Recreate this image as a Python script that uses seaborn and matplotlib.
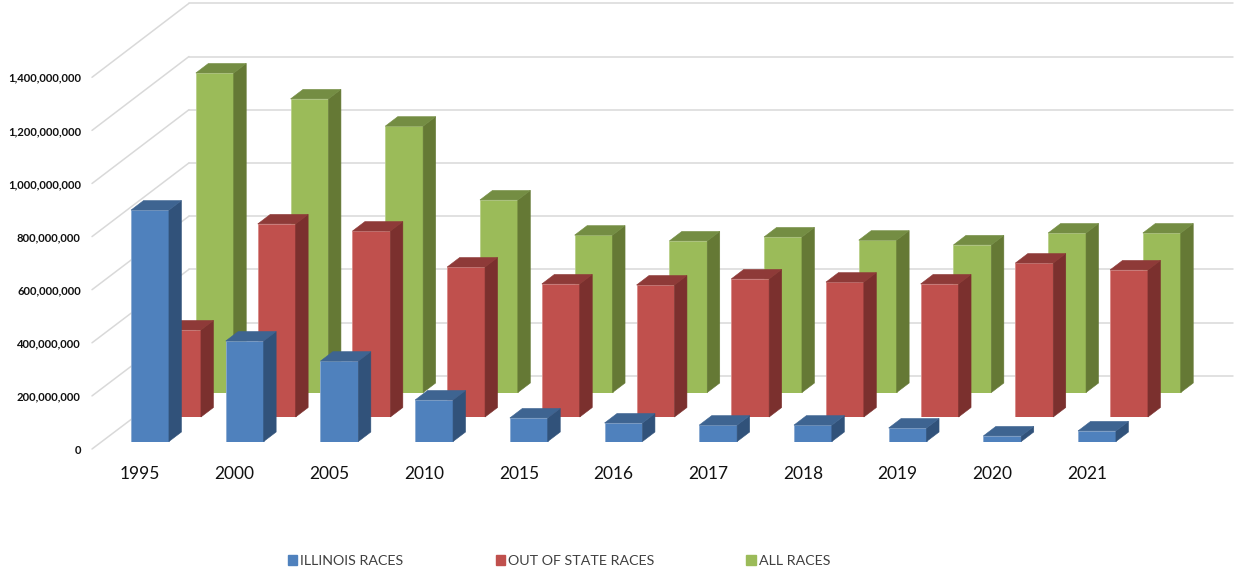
import matplotlib
matplotlib.use('Agg')
import matplotlib.pyplot as plt
from matplotlib.patches import Patch, Polygon
from matplotlib.lines import Line2D
from matplotlib.transforms import IdentityTransform
import seaborn as sns

years = ['1995', '2000', '2005', '2010', '2015', '2016', '2017', '2018', '2019', '2020', '2021']
illinois = [875e6, 380e6, 304e6, 157e6, 89e6, 70e6, 62e6, 62e6, 51e6, 21e6, 40e6]
out_of_state = [329e6, 730e6, 703e6, 567e6, 503e6, 499e6, 522e6, 510e6, 503e6, 582e6, 556e6]
all_races = [1208e6, 1110e6, 1007e6, 728e6, 595e6, 573e6, 588e6, 576e6, 558e6, 603e6, 603e6]
ticks = [0, 200000000, 400000000, 600000000, 800000000, 1000000000, 1200000000, 1400000000]

W, H = 1238, 574
SLOT = 94.7
PX_HEIGHT = 52.9 * 7
DEPTH_X, DEPTH_Y = 12.5, 9.5

sns.set_theme(style='white')
plt.rcParams['font.family'] = ['Lato', 'DejaVu Sans']

fig = plt.figure(figsize=(W / 100, H / 100), dpi=100)


def make_axes(center0, bottom, height=PX_HEIGHT):
    # position given in picture pixels, bottom counted from the top edge
    left = center0 - SLOT / 2
    ax = fig.add_axes([left / W, (H - bottom) / H, SLOT * 11 / W, height / H])
    ax.patch.set_alpha(0)
    ax.set_xlim(-0.5, 10.5)
    ax.set_ylim(0, 1400000000)
    sns.despine(ax=ax, left=True, bottom=True, top=True, right=True)
    ax.set_xticks([])
    ax.set_yticks([])
    return ax


# walls: back wall and the diagonal lines back to the value labels
front = make_axes(140, 449, 53.1 * 7)
front.set_xticks(range(len(years)))
front.set_xticklabels(years, fontsize=12.5, color='#111111')
front.set_yticks(ticks)
front.set_yticklabels([f'{t:,}' for t in ticks], fontsize=8.1, fontweight='bold', color='#111111')
front.tick_params(axis='both', length=0)
front.tick_params(axis='y', pad=8.5)
front.tick_params(axis='x', pad=12.5)

wall = make_axes(236.35, 375.7, 53.2 * 7)
fig.canvas.draw()
for t in ticks:
    x0, y0 = front.transData.transform((-0.5, t))
    x1, y1 = wall.transData.transform((-0.5, t))
    x0 = 92
    x1 = 189
    fig.add_artist(Line2D([x0, x1], [y0, y1], transform=IdentityTransform(), color='#d9d9d9', lw=1.1, zorder=0))
    fig.add_artist(Line2D([x1, 1233], [y1, y1], transform=IdentityTransform(), color='#d9d9d9', lw=1.1, zorder=0))


def draw_series(values, center0, bottom, color, side, top, edge):
    ax = make_axes(center0, bottom)
    sns.barplot(x=years, y=values, ax=ax, color=color, saturation=1, width=0.4, edgecolor=edge, linewidth=0.6)
    ax.set_xlim(-0.5, 10.5)
    ax.set_ylim(0, 1400000000)
    ax.set_xticks([])
    ax.set_yticks([])
    ax.set_xlabel('')
    ax.set_ylabel('')
    for bar in ax.patches:
        a = ax.transData.transform((bar.get_x(), 0))
        b = ax.transData.transform((bar.get_x() + bar.get_width(), bar.get_height()))
        side_pts = [(b[0], a[1]), (b[0], b[1]), (b[0] + DEPTH_X, b[1] + DEPTH_Y), (b[0] + DEPTH_X, a[1] + DEPTH_Y)]
        top_pts = [(a[0], b[1]), (b[0], b[1]), (b[0] + DEPTH_X, b[1] + DEPTH_Y), (a[0] + DEPTH_X, b[1] + DEPTH_Y)]
        ax.add_patch(Polygon(side_pts, transform=IdentityTransform(), facecolor=side, edgecolor=side, lw=0.4, clip_on=False))
        ax.add_patch(Polygon(top_pts, transform=IdentityTransform(), facecolor=top, edgecolor=top, lw=0.4, clip_on=False))


draw_series(all_races, 214.8, 392.5, '#9BBB59', '#657935', '#748D43', '#b9cf8a')
draw_series(out_of_state, 182, 417, '#C0504D', '#7B302E', '#8E3A38', '#d98a88')
draw_series(illinois, 150, 441.5, '#4F81BD', '#31527A', '#3E6491', '#8aaad2')

handles = [Patch(color='#4F81BD', label='ILLINOIS RACES'),
           Patch(color='#C0504D', label='OUT OF STATE RACES'),
           Patch(color='#9BBB59', label='ALL RACES')]
fig.legend(handles=handles, ncols=3, loc='center left', bbox_to_anchor=(288 / W, 1 - 561 / H), frameon=False,
           fontsize=10.3, labelcolor='#404040', handlelength=0.65, handleheight=0.65, handletextpad=0.2,
           columnspacing=6.45, borderpad=0, borderaxespad=0)

fig.savefig('out.png', dpi=100)
